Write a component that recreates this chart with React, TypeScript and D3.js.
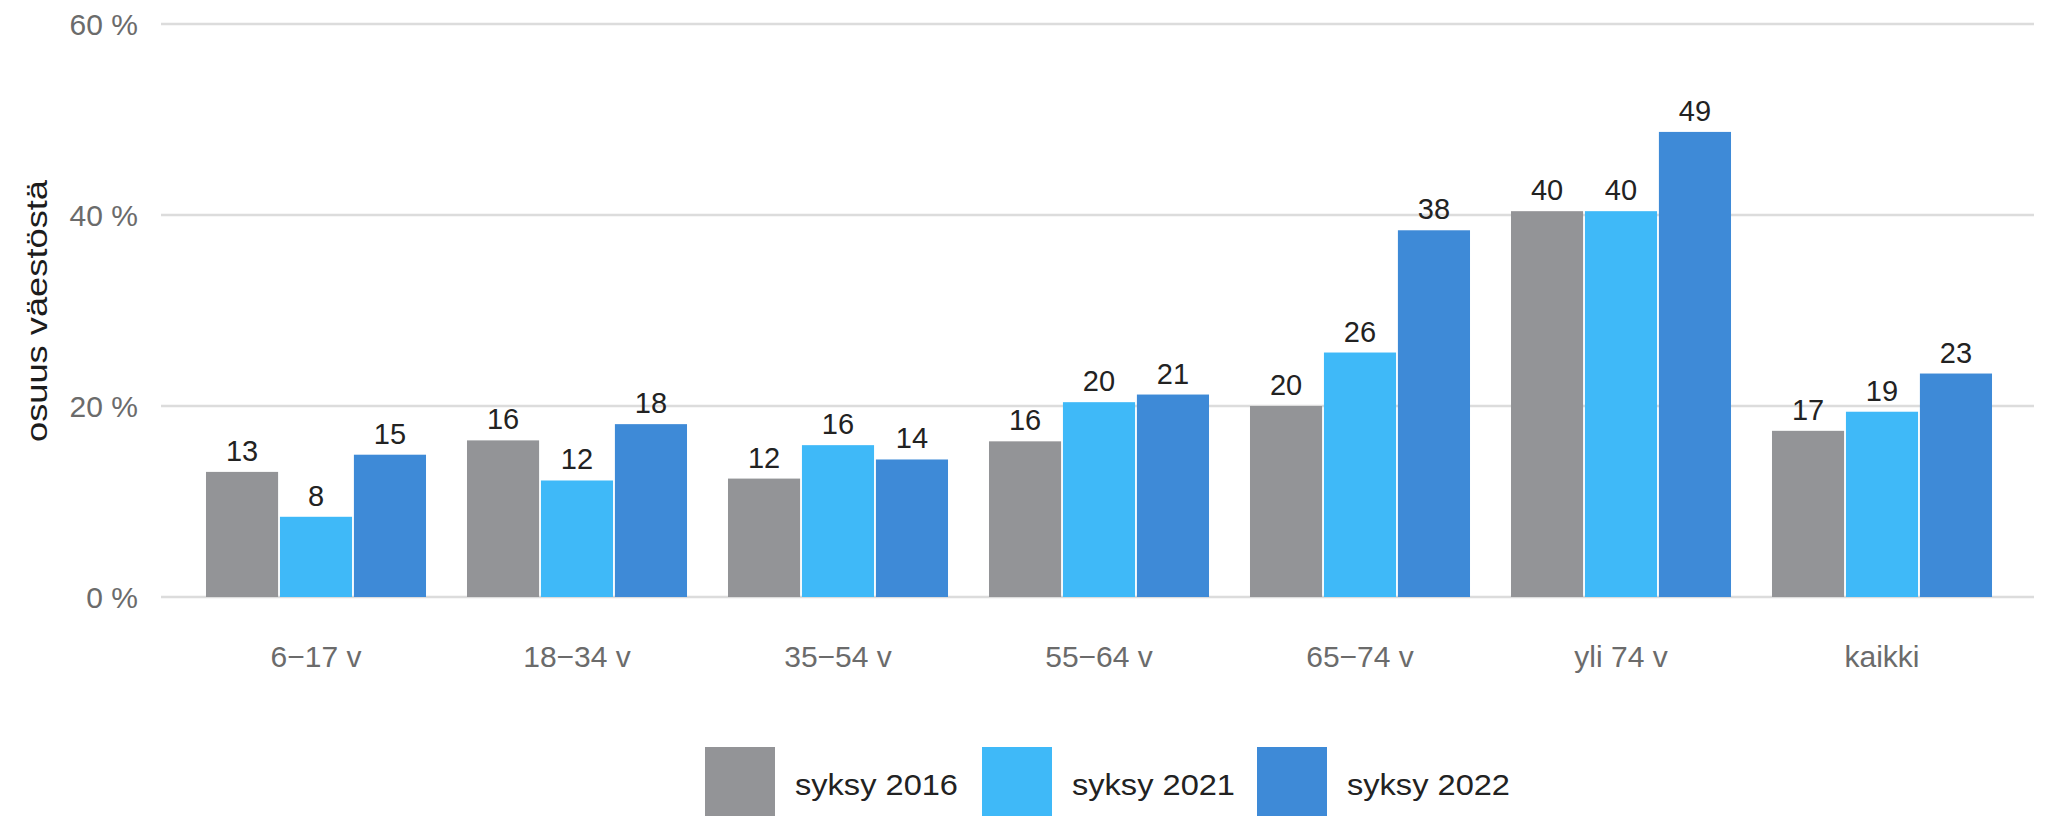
import React from "react"
import * as d3 from "d3"

const categories = ["6−17 v", "18−34 v", "35−54 v", "55−64 v", "65−74 v", "yli 74 v", "kaikki"]
const seriesNames = ["syksy 2016", "syksy 2021", "syksy 2022"]
const autumn2016 = [13.1, 16.4, 12.4, 16.3, 20.0, 40.4, 17.4]
const autumn2021 = [8.4, 12.2, 15.9, 20.4, 25.6, 40.4, 19.4]
const autumn2022 = [14.9, 18.1, 14.4, 21.2, 38.4, 48.7, 23.4]
const yTicks = [0, 20, 40, 60]
const colors = ["#939497", "#3fb9f8", "#3e8ad7"]

const W = 2047, H = 816
const font = "'Liberation Sans', Arial, sans-serif"

const App = () => {
    const series = [autumn2016, autumn2021, autumn2022]

    const y = d3.scaleLinear().domain([0, 60]).range([597, 24])

    const x = d3.scaleBand()
        .domain(categories)
        .range([185.5, 2012.5])
        .paddingInner(0.157)
        .paddingOuter(0.0785)

    const xs = d3.scaleBand()
        .domain(seriesNames)
        .range([0, x.bandwidth()])
        .paddingInner(0.025)

    // legend positions
    const legendX = d3.scaleOrdinal().domain(seriesNames).range([705, 982, 1257])

    return (
        <svg width={W} height={H} style={{position: "absolute", left: 0, top: 0, background: "#fff"}}
            fontFamily={font}>
            {yTicks.map(t => (
                <g key={t}>
                    <line x1={161} x2={2034} y1={y(t)} y2={y(t)} stroke="#dcdcdc" strokeWidth={2.6} />
                    <text x={138} y={y(t)} textAnchor="end" dominantBaseline="central"
                        fontSize={30} fill="#6b6b6b">{t} %</text>
                </g>
            ))}

            <text transform={`translate(47,311) rotate(-90)`} textAnchor="middle"
                fontSize={30} fill="#1c1c1c" textLength={262} lengthAdjust="spacingAndGlyphs">osuus väestöstä</text>

            {categories.map((c, i) => (
                <g key={c} transform={`translate(${x(c)},0)`}>
                    {series.map((s, j) => {
                        const v = s[i]
                        const bx = xs(seriesNames[j])
                        return (
                            <g key={j}>
                                <rect x={bx} y={y(v)} width={xs.bandwidth()} height={y(0) - y(v)}
                                    fill={colors[j]} />
                                <text x={bx + xs.bandwidth() / 2} y={y(v) - 11} textAnchor="middle"
                                    fontSize={29} fill="#222">{Math.round(v)}</text>
                            </g>
                        )
                    })}
                    <text x={x.bandwidth() / 2} y={667} textAnchor="middle" fontSize={30}
                        fill="#6b6b6b">{c}</text>
                </g>
            ))}

            {seriesNames.map((n, j) => (
                <g key={n} transform={`translate(${legendX(n)},747)`}>
                    <rect x={0} y={0} width={70} height={70} fill={colors[j]} />
                    <text x={90} y={48} fontSize={30} fill="#222" textLength={163}
                        lengthAdjust="spacingAndGlyphs">{n}</text>
                </g>
            ))}
        </svg>
    )
}

export default App
